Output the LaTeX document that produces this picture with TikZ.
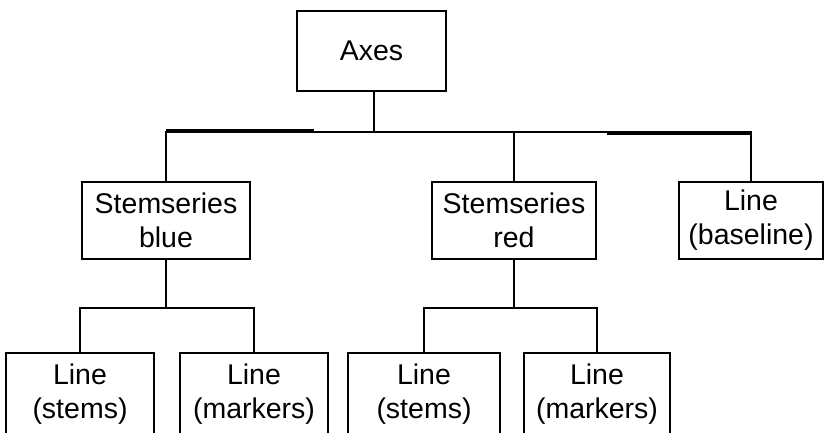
\documentclass[tikz,border=0pt]{standalone}
\usepackage{fontspec}
\setmainfont{Liberation Sans}

\begin{document}
\begin{tikzpicture}[x=1pt, y=-1pt, every node/.style={font=\fontsize{28.5}{34}\selectfont, align=center},
    box/.style={draw, line width=2pt, minimum height=77pt, inner sep=0pt},
    conn/.style={line width=2pt}, heavy/.style={line width=3pt}]
    \useasboundingbox (0,0) rectangle (825,432);
    \clip (0,0) rectangle (825,432);

    \node[box, minimum width=149pt, minimum height=80pt] (axes) at (371.5,51) {Axes};
    \node[box, minimum width=168pt] (blue) at (166,220.5) {Stemseries\\blue};
    \node[box, minimum width=164pt] (red) at (514,220.5) {Stemseries\\red};
    \node[box, minimum width=144pt] (base) at (751,220.5) {Line\\(baseline)};
    \foreach \n/\x/\w/\t in {bstems/80/148pt/stems, bmark/254/148pt/markers, rstems/424/152pt/stems, rmark/597/146pt/markers} {
        \node[box, minimum width=\w, minimum height=83pt] (\n) at (\x,394.5) {Line\\(\t)};
    }

    \draw[conn] ([xshift=2.5pt]axes.south) -- ++(0,40) coordinate (ja);
    \draw[conn] (blue.north) |- (ja) -| (base.north);
    \draw[conn] (red.north) -- (red.north |- ja);
    \draw[heavy] (blue.north |- ja) ++(0,-1.5) -- ++(148,0);
    \draw[heavy] (base.north |- ja) ++(0,1.5) -- ++(-144,0);

    \foreach \p/\a/\b in {blue/bstems/bmark, red/rstems/rmark} {
        \draw[conn] (\p.south) -- ++(0,48) coordinate (j\p);
        \draw[conn] (\a.north) |- (j\p) -| (\b.north);
    }
\end{tikzpicture}
\end{document}
